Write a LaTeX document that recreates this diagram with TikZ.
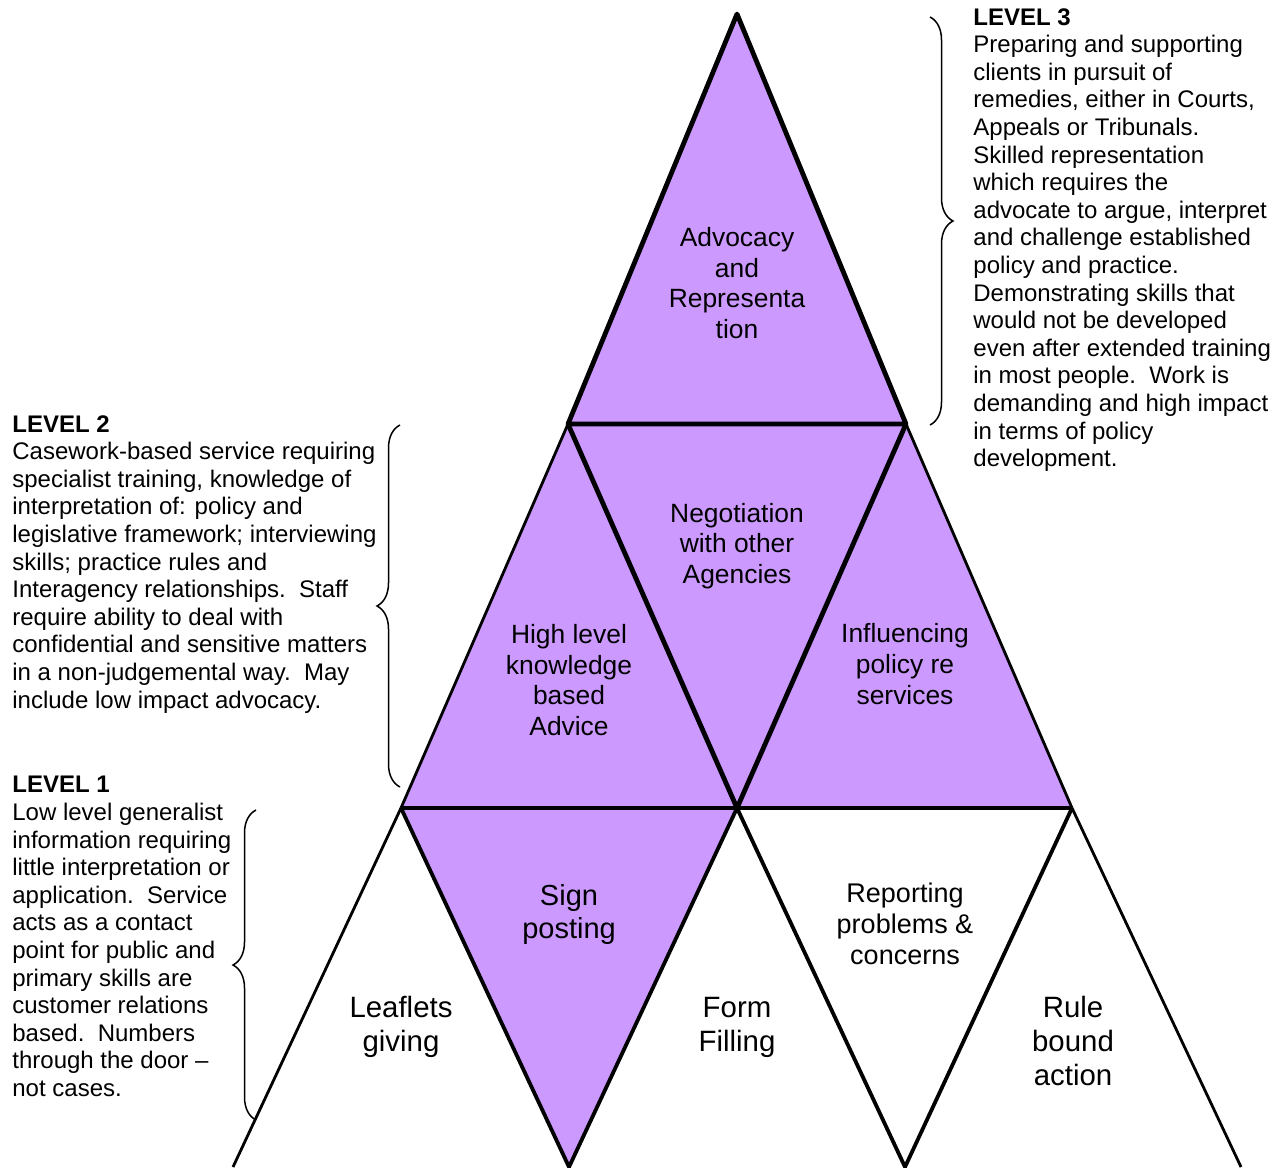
\documentclass[tikz,border=0pt]{standalone}
\usepackage{fontspec}
\setmainfont{Liberation Sans}
\usepackage{xcolor}
\usetikzlibrary{decorations.pathreplacing}
\definecolor{tripurple}{HTML}{CC99FF}
\tikzset{
  tri/.style={fill=tripurple},
  edgethick/.style={line width=2.4pt, line join=round},
  edgemid/.style={line width=1.9pt, line join=round},
  edgethin/.style={line width=1.4pt},
  lbl/.style={align=center, inner sep=0pt, font=\fontsize{13.2}{15.3}\selectfont},
  lblbig/.style={align=center, inner sep=0pt, font=\fontsize{14.7}{17}\selectfont},
  desc/.style={align=left, anchor=north west, inner sep=0pt, font=\fontsize{12}{13.8}\selectfont},
  bracket/.style={decorate, decoration={brace, amplitude=11.5pt}, line width=0.75pt}
}

\begin{document}
\begin{tikzpicture}[x=0.5pt, y=-0.5pt]
\useasboundingbox (0,0) rectangle (1288,1167);

% Corner points of the triangles
\coordinate (apex) at (737,14);
\coordinate (l3L) at (568,424);
\coordinate (l3R) at (906,424);
\coordinate (l2L) at (401,808);
\coordinate (l2M) at (737,808);
\coordinate (l2R) at (1072,808);
\coordinate (b1) at (233,1167);
\coordinate (b2) at (569,1167);
\coordinate (b3) at (905,1167);
\coordinate (b4) at (1241,1167);

% Purple fills: levels 3 and 2, and the sign posting triangle
\fill[tri] (apex) -- (l3R) -- (l2R) -- (l2L) -- (l3L) -- cycle;
\fill[tri] (l2L) -- (l2M) -- (b2) -- cycle;

% Level 3 triangle
\draw[edgethick] (apex) -- (l3L) -- (l3R) -- cycle;
% Level 2 row
\draw[edgethin] (l3L) -- (l2L);
\draw[edgethin] (l3R) -- (l2R);
\draw[edgethick] (l3L) -- (l2M) -- (l3R);
\draw[edgethick] (l2L) -- (l2R);
% Level 1 row
\draw[edgethin] (l2L) -- (b1);
\draw[edgemid] (l2L) -- (b2) -- (l2M);
\draw[edgemid] (l2M) -- (b3) -- (l2R);
\draw[edgethin] (l2R) -- (b4);

% Labels inside the triangles
\node[lbl] (advocacy) at (737,283) {Advocacy\\and\\Representa\\tion};
\node[lbl] (negotiation) at (737,546) {Negotiation\\with other\\Agencies};
\node[lbl] (highlevel) at (569,680) {High level\\knowledge\\based\\Advice};
\node[lbl] (influencing) at (905,664) {Influencing\\policy re\\services};
\node[lbl, font=\fontsize{14.5}{16.5}\selectfont] (signpost) at (569,914) {Sign\\posting};
\node[lblbig] (leaflets) at (401,1027) {Leaflets\\giving};
\node[lblbig] (formfill) at (737,1027) {Form\\Filling};
\node[lbl, font=\fontsize{13.5}{15.5}\selectfont] (reporting) at (905,924) {Reporting\\problems \&\\concerns};
\node[lblbig] (rulebound) at (1073,1041) {Rule\\bound\\action};

% Level descriptions
\node[desc] (desc3) at (973,8) {\textbf{LEVEL 3}\\Preparing and supporting\\clients in pursuit of\\remedies, either in Courts,\\Appeals or Tribunals.\\Skilled representation\\which requires the\\advocate to argue, interpret\\and challenge established\\policy and practice.\\Demonstrating skills that\\would not be developed\\even after extended training\\in most people.\ \ Work is\\demanding and high impact\\in terms of policy\\development.};
\node[desc] (desc2) at (12,415) {\textbf{LEVEL 2}\\Casework-based service requiring\\specialist training, knowledge of\\interpretation of: policy and\\legislative framework; interviewing\\skills; practice rules and\\Interagency relationships.\ \ Staff\\require ability to deal with\\confidential and sensitive matters\\in a non-judgemental way.\ \ May\\include low impact advocacy.};
\node[desc] (desc1) at (12,776) {\textbf{LEVEL 1}\\Low level generalist\\information requiring\\little interpretation or\\application.\ \ Service\\acts as a contact\\point for public and\\primary skills are\\customer relations\\based.\ \ Numbers\\through the door --\\not cases.};

% Braces
\draw[bracket] (930,17) -- (930,425);
\draw[bracket] (400,787) -- (400,425);
\draw[bracket] (256,1120) -- (256,810);
\end{tikzpicture}
\end{document}
